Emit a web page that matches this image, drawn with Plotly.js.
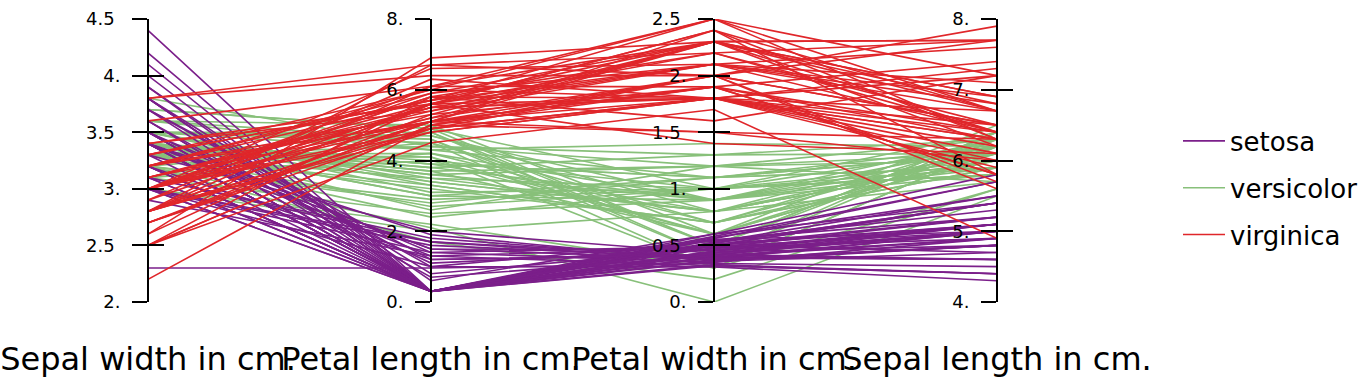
<!DOCTYPE html>
<html><head><meta charset="utf-8">
<script src="https://cdn.plot.ly/plotly-3.0.1.min.js"></script>
<style>html,body{margin:0;padding:0;background:#fff}#chart{width:1370px;height:380px}</style>
</head><body><div id="chart"></div>
<script>
// ---- chart data ----
const dimensionTitles = ["Sepal width in cm.", "Petal length in cm.", "Petal width in cm.", "Sepal length in cm."];
const axisRanges = [[2, 4.5], [0, 8], [0, 2.5], [4, 8]];
const tickValues = [[2, 2.5, 3, 3.5, 4, 4.5], [0, 2, 4, 6, 8], [0, 0.5, 1, 1.5, 2, 2.5], [4, 5, 6, 7, 8]];
const tickLabels = [["2.", "2.5", "3.", "3.5", "4.", "4.5"], ["0.", "2.", "4.", "6.", "8."], ["0.", "0.5", "1.", "1.5", "2.", "2.5"], ["4.", "5.", "6.", "7.", "8."]];
const speciesNames = ["setosa", "versicolor", "virginica"];
const speciesColors = ["#7b1f8a", "#88c07a", "#e0262a"];

const setosaSepalWidth = [3.5,3.0,3.2,3.1,3.6,3.9,3.4,3.4,2.9,3.1,3.7,3.4,3.0,3.0,4.0,4.4,3.9,3.5,3.8,3.8,3.4,3.7,3.6,3.3,3.4,3.0,3.4,3.5,3.4,3.2,3.1,3.4,4.1,4.2,3.1,3.2,3.5,3.6,3.0,3.4,3.5,2.3,3.2,3.5,3.8,3.0,3.8,3.2,3.7,3.3];
const setosaPetalLength = [0.3,1.4,0.3,1.7,0.3,0.6,0.3,1.5,1.3,0.3,0.3,1.9,0.3,1.0,0.3,0.3,0.3,1.1,0.3,0.8,0.3,1.2,0.3,2.0,0.3,1.6,0.3,0.3,1.3,0.3,1.8,0.3,0.3,0.3,0.3,1.2,0.3,0.7,0.3,1.5,0.3,0.96,0.3,1.4,0.3,1.7,0.3,0.3,1.0,0.3];
const setosaPetalWidth = [0.45,0.35,0.5,0.4,0.55,0.6,0.42,0.38,0.32,0.48,0.52,0.36,0.44,0.31,0.6,0.58,0.5,0.46,0.56,0.47,0.5,0.41,0.4,0.43,0.37,0.39,0.45,0.5,0.48,0.36,0.38,0.52,0.55,0.57,0.4,0.42,0.53,0.41,0.33,0.46,0.44,0.34,0.32,0.49,0.51,0.37,0.5,0.39,0.54,0.43];
const setosaSepalLength = [5.1,4.9,4.7,4.6,5.0,5.4,4.6,5.0,4.4,4.9,5.4,4.8,4.8,4.3,5.8,5.7,5.4,5.1,5.7,5.1,5.4,5.1,4.6,5.1,4.8,5.0,5.0,5.2,5.2,4.7,4.8,5.4,5.2,5.5,4.9,5.0,5.5,4.9,4.4,5.1,5.0,4.5,4.4,5.0,5.1,4.8,5.1,4.6,5.3,5.0];

const versicolorSepalWidth = [3.2,3.4,3.3,3.5,3.1,3.4,3.6,3.0,3.3,3.4,3.5,3.2,3.4,3.3,3.7,3.5,3.4,3.1,3.3,3.5,3.4,3.2,3.6,3.4,3.3,3.5,3.0,3.4,3.3,3.5,3.8,3.4,3.2,3.3,3.5,3.4,3.1,3.3,3.6,3.4,3.5,3.2,3.4,3.3,3.5,3.4,3.7,3.3,3.4,3.5];
const versicolorPetalLength = [4.5,3.9,4.8,3.1,4.2,3.6,5.0,2.2,4.4,3.4,4.6,2.8,3.8,4.1,4.9,3.3,2.6,4.0,3.5,4.7,3.0,2.1,4.3,3.7,2.4,4.5,2.0,3.9,3.2,4.8,4.4,3.6,2.9,4.1,3.4,3.8,2.5,4.2,4.6,3.0,3.5,1.7,4.0,3.3,4.7,3.7,4.9,2.7,3.9,4.3];
const versicolorPetalWidth = [0.7,1.1,0.4,1.0,0.9,1.2,0.6,0.3,1.3,0.8,0.5,1.1,0.9,0.3,1.0,0.7,1.2,0.6,1.0,0.8,0.9,0.0,1.4,0.6,1.0,0.3,0.8,1.1,0.7,0.5,1.2,0.9,1.0,0.6,0.8,1.3,0.9,0.7,0.4,1.1,0.8,0.2,1.0,0.7,0.9,1.2,0.5,1.0,0.8,1.1];
const versicolorSepalLength = [6.3,6.1,6.4,5.8,6.2,6.0,6.5,5.6,6.3,6.0,6.3,5.9,6.1,6.2,6.4,6.0,5.7,6.1,6.0,6.3,5.9,5.5,6.2,6.1,5.8,6.2,5.7,6.1,5.9,6.4,6.3,6.0,5.9,6.2,6.0,6.1,5.8,6.2,6.3,5.9,6.0,5.6,6.2,5.9,6.3,6.1,6.4,5.8,6.1,6.2];

const virginicaSepalWidth = [3.3,2.7,3.0,2.9,3.0,3.0,2.5,2.9,2.5,3.6,3.2,2.7,3.0,2.5,2.8,3.2,3.0,3.8,2.6,2.2,3.2,2.8,2.8,2.7,3.3,3.2,2.8,3.0,2.8,3.0,2.8,3.8,2.8,2.8,2.6,3.0,3.4,3.1,3.0,3.1,3.1,3.1,2.7,3.2,3.3,3.0,2.5,3.0,3.4,3.0];
const virginicaPetalLength = [6.0,5.1,5.9,5.6,5.8,6.6,4.5,6.3,5.8,6.1,5.1,5.3,5.5,5.0,5.1,5.3,5.5,6.7,6.9,5.0,5.7,4.9,6.7,4.9,5.7,6.0,4.8,4.9,5.6,5.8,6.1,6.4,5.6,5.1,5.6,6.1,5.6,5.5,4.8,5.4,5.6,5.1,5.1,5.9,5.7,5.2,5.0,5.2,5.4,5.1];
const virginicaPetalWidth = [2.5,1.9,2.1,1.8,2.2,2.1,1.7,1.8,1.8,2.5,2.0,1.9,2.1,2.0,2.4,2.3,1.8,2.2,2.3,1.5,2.3,2.0,2.0,1.8,2.1,1.8,1.8,1.8,2.1,1.6,1.9,2.0,2.2,1.5,1.4,2.3,2.4,1.8,1.8,2.1,2.4,2.3,1.9,2.3,2.5,2.3,1.9,2.0,2.3,1.8];
const virginicaSepalLength = [6.3,5.8,7.1,6.3,6.5,7.6,4.9,7.3,6.7,7.2,6.5,6.4,6.8,5.7,5.8,6.4,6.5,7.7,7.7,6.0,6.9,5.6,7.7,6.3,6.7,7.2,6.2,6.1,6.4,7.2,7.4,7.9,6.4,6.3,6.1,7.7,6.3,6.4,6.0,6.9,6.7,6.9,5.8,6.8,6.7,6.7,6.3,6.5,6.2,5.9];

const speciesColumns = [
  [setosaSepalWidth, setosaPetalLength, setosaPetalWidth, setosaSepalLength],
  [versicolorSepalWidth, versicolorPetalLength, versicolorPetalWidth, versicolorSepalLength],
  [virginicaSepalWidth, virginicaPetalLength, virginicaPetalWidth, virginicaSepalLength]
];

// ---- build ----
const W = 1370, H = 380;
const axisPx = [148, 997];            // pixel of first/last axis
const dom = [axisPx[0] / W, axisPx[1] / W];
const nDim = dimensionTitles.length;
const axisPaperX = i => dom[0] + (dom[1] - dom[0]) * i / (nDim - 1);
const scale = (v, d) => (v - axisRanges[d][0]) / (axisRanges[d][1] - axisRanges[d][0]);

const drawOrder = [1, 0, 2];
const traces = [];
drawOrder.forEach(s => {
  const cols = speciesColumns[s];
  const xs = [], ys = [];
  for (let r = 0; r < cols[0].length; r++) {
    for (let d = 0; d < nDim; d++) { xs.push(d); ys.push(scale(cols[d][r], d)); }
    xs.push(null); ys.push(null);
  }
  traces.push({
    type: 'scatter', mode: 'lines', x: xs, y: ys, name: speciesNames[s],
    legendgroup: speciesNames[s], legendrank: s + 1,
    line: { color: speciesColors[s], width: 1.6 }, hoverinfo: 'skip', connectgaps: false
  });
});

const layout = {
  width: W, height: H,
  margin: { l: 0, r: 0, t: 19, b: 78 },
  paper_bgcolor: '#fff', plot_bgcolor: 'rgba(0,0,0,0)',
  font: { family: 'DejaVu Sans, sans-serif', color: '#000' },
  showlegend: true,
  legend: { x: 1178 / W, xanchor: 'left', y: (302 - 188) / 283, yanchor: 'middle',
            font: { size: 26, family: 'DejaVu Sans, sans-serif', color: '#000' },
            itemwidth: 42, tracegroupgap: 10, bgcolor: 'rgba(0,0,0,0)' },
  xaxis: { domain: dom, range: [0, nDim - 1], showgrid: false, zeroline: false, showline: false,
           tickmode: 'array', tickvals: [0, 1, 2, 3], ticktext: dimensionTitles, tickangle: 0,
           ticks: '', ticklabelstandoff: 35, tickfont: { size: 32, color: '#000' }, fixedrange: true },
  yaxis: { domain: [0, 1], range: [0, 1], visible: false, fixedrange: true }
};

for (let d = 0; d < nDim; d++) {
  const a = 2 + d * 2, b = 3 + d * 2;
  const common = { anchor: 'free', overlaying: 'y', side: 'left', position: axisPaperX(d),
                   range: axisRanges[d], tickmode: 'array', tickvals: tickValues[d],
                   showgrid: false, zeroline: false, fixedrange: true, tickcolor: '#000',
                   ticklen: 15, tickwidth: 2 };
  layout['yaxis' + a] = Object.assign({}, common, {
    showline: true, linecolor: '#000', linewidth: 2, ticks: 'outside',
    ticktext: tickLabels[d].map(t => t.length > 2 ? t + '\u00a0' : t),
    ticklabelstandoff: 8, tickfont: { size: 18, color: '#000' }
  });
  layout['yaxis' + b] = Object.assign({}, common, { showline: false, ticks: 'inside', showticklabels: false });
  traces.push({ type: 'scatter', x: [null], y: [null], yaxis: 'y' + a, showlegend: false, hoverinfo: 'skip' });
  traces.push({ type: 'scatter', x: [null], y: [null], yaxis: 'y' + b, showlegend: false, hoverinfo: 'skip' });
}

Plotly.newPlot('chart', traces, layout, { displayModeBar: false, staticPlot: true });
</script>
</body></html>
